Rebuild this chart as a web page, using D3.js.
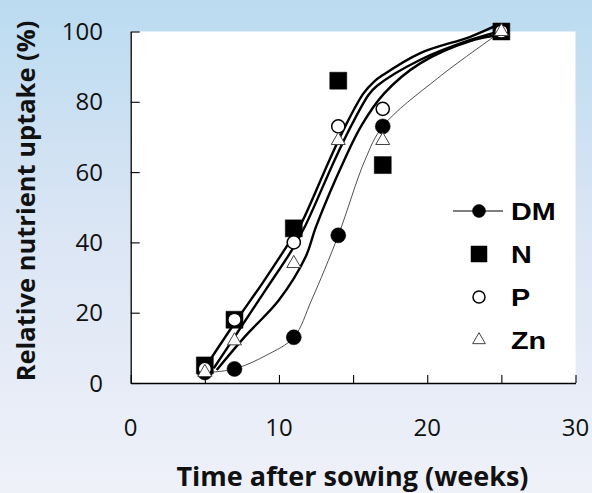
<!DOCTYPE html>
<html>
<head>
<meta charset="utf-8">
<script src="https://cdn.jsdelivr.net/npm/d3@7"></script>
<style>
  html, body { margin: 0; padding: 0; }
  body { width: 592px; height: 493px; overflow: hidden; }
  svg { display: block; }
</style>
</head>
<body>
<svg id="chart" width="592" height="493"></svg>
<script>
'use strict';

// sampling times (weeks after sowing)
var weeks = [5, 7, 11, 14, 17, 25];

// relative uptake (%)
var dmValues = [3, 4, 13, 42, 73, 100];
var nValues  = [5, 18, 44, 86, 62, 100];
var pValues  = [4, 18, 40, 73, 78, 100];
var znValues = [3, 12, 34, 69, 69, 100];

// fitted curves, [week, %]
var fitTop = [[5.2, 5.6], [7, 17], [8.9, 28.5], [10.7, 40], [11.4, 44.5], [13.4, 63.4],
  [14.5, 73.3], [15.7, 82.4], [16.4, 85.7], [17, 87.6], [19.5, 93.8], [22.9, 98.5], [24.7, 101.8]];
var fitMid = [[5.6, 4.2], [7.3, 15], [9.1, 26.5], [10.9, 38], [11.75, 44.5], [13.75, 63.4],
  [14.85, 73], [16.05, 82], [16.6, 84.5], [19.5, 91.9], [22.9, 97.6], [25.2, 100.4]];
var fitLow = [[5.8, 3.7], [7.7, 13.2], [10, 23.6], [11.8, 35.9], [12.5, 44.5], [14.4, 63.4],
  [15.6, 73.5], [17.1, 82.4], [19.55, 91], [22.9, 97.3], [25.2, 99.2]];
var fitDM = [[5.2, 3], [7, 4], [9.2, 8], [11, 13], [12.2, 23.6], [14, 42], [15.8, 63.4],
  [17, 73], [20.7, 86.7], [25, 100]];

var xTicks = [0, 5, 10, 15, 20, 25, 30];
var xLabels = [0, 10, 20, 30];
var yTicks = [0, 20, 40, 60, 80, 100];
var legendNames = ['DM', 'N', 'P', 'Zn'];

var svg = d3.select('#chart');
var W = 592, H = 493;

var x = d3.scaleLinear().domain([0, 30]).range([130.7, 575.5]);
var y = d3.scaleLinear().domain([0, 100]).range([383, 31.5]);

// background gradient
var defs = svg.append('defs');
var grad = defs.append('linearGradient').attr('id', 'bg')
  .attr('x1', 0).attr('y1', 0).attr('x2', 0).attr('y2', 1);
grad.append('stop').attr('offset', '0%').attr('stop-color', '#bbdbf0');
grad.append('stop').attr('offset', '45%').attr('stop-color', '#dae5f4');
grad.append('stop').attr('offset', '100%').attr('stop-color', '#eff1f9');
svg.append('rect').attr('width', W).attr('height', H).attr('fill', 'url(#bg)');

// white plotting area
svg.append('rect')
  .attr('x', x(0)).attr('y', y(100))
  .attr('width', x(30) - x(0)).attr('height', y(0) - y(100))
  .attr('fill', '#fff');

// axes
var xAxis = svg.append('g').attr('transform', 'translate(0,' + y(0) + ')')
  .call(d3.axisBottom(x).tickValues(xTicks).tickSizeInner(-8).tickSizeOuter(0).tickFormat(''));
var yAxis = svg.append('g').attr('transform', 'translate(' + x(0) + ',0)')
  .call(d3.axisLeft(y).tickValues(yTicks).tickSizeInner(-9).tickSizeOuter(0).tickFormat(''));
[xAxis, yAxis].forEach(function (g) {
  g.select('.domain').attr('stroke', '#000').attr('stroke-width', 1.3);
  g.selectAll('.tick line').attr('stroke', '#000').attr('stroke-width', 1.1);
});

var labelFont = '"Open Sans", "Noto Sans", sans-serif';

svg.append('g').selectAll('text').data(xLabels).enter().append('text')
  .attr('x', function (d) { return x(d); })
  .attr('y', 436)
  .attr('text-anchor', 'middle')
  .attr('font-family', labelFont).attr('font-size', 24).attr('fill', '#111')
  .text(function (d) { return d; });

svg.append('g').selectAll('text').data(yTicks).enter().append('text')
  .attr('x', 103)
  .attr('y', function (d) { return y(d); })
  .attr('dy', '0.36em')
  .attr('text-anchor', 'end')
  .attr('font-family', labelFont).attr('font-size', 24).attr('fill', '#111')
  .text(function (d) { return d; });

svg.append('text')
  .attr('x', 352.5).attr('y', 486)
  .attr('text-anchor', 'middle')
  .attr('font-family', labelFont).attr('font-weight', 'bold').attr('font-size', 27)
  .attr('fill', '#111')
  .text('Time after sowing (weeks)');

svg.append('text')
  .attr('transform', 'translate(35,201) rotate(-90)')
  .attr('text-anchor', 'middle')
  .attr('font-family', labelFont).attr('font-weight', 'bold').attr('font-size', 25.5)
  .attr('fill', '#111')
  .text('Relative nutrient uptake (%)');

// curves
var line = d3.line()
  .x(function (d) { return x(d[0]); })
  .y(function (d) { return y(d[1]); })
  .curve(d3.curveCatmullRom.alpha(0.5));

svg.append('path').datum(fitDM).attr('d', line)
  .attr('fill', 'none').attr('stroke', '#222').attr('stroke-width', 0.8);
[fitTop, fitMid, fitLow].forEach(function (f) {
  svg.append('path').datum(f).attr('d', line)
    .attr('fill', 'none').attr('stroke', '#000').attr('stroke-width', 2.4);
});

// markers
var sym = {
  DM: d3.symbol().type(d3.symbolCircle).size(Math.PI * 7.5 * 7.5),
  N: d3.symbol().type(d3.symbolSquare).size(17 * 17),
  P: d3.symbol().type(d3.symbolCircle).size(Math.PI * 6.6 * 6.6),
  Zn: d3.symbol().type(d3.symbolTriangle).size(85)
};
var style = {
  DM: { fill: '#000', stroke: '#000', sw: 0.5 },
  N: { fill: '#000', stroke: '#000', sw: 0.5 },
  P: { fill: '#fff', stroke: '#000', sw: 1.5 },
  Zn: { fill: '#fff', stroke: '#444', sw: 1 }
};
var seriesData = { DM: dmValues, N: nValues, P: pValues, Zn: znValues };

legendNames.forEach(function (name) {
  svg.append('g').selectAll('path').data(weeks).enter().append('path')
    .attr('transform', function (d, i) {
      return 'translate(' + x(d) + ',' + y(seriesData[name][i]) + ')';
    })
    .attr('d', sym[name]())
    .attr('fill', style[name].fill)
    .attr('stroke', style[name].stroke)
    .attr('stroke-width', style[name].sw);
});

// legend
var legendY = d3.scalePoint().domain(legendNames).range([211, 340]);
var legendSym = {
  DM: d3.symbol().type(d3.symbolCircle).size(Math.PI * 6.5 * 6.5),
  N: d3.symbol().type(d3.symbolSquare).size(16 * 16),
  P: d3.symbol().type(d3.symbolCircle).size(Math.PI * 6 * 6),
  Zn: d3.symbol().type(d3.symbolTriangle).size(70)
};
var lg = svg.append('g');
lg.append('line')
  .attr('x1', 453).attr('x2', 503)
  .attr('y1', legendY('DM')).attr('y2', legendY('DM'))
  .attr('stroke', '#000').attr('stroke-width', 1.2);
legendNames.forEach(function (name) {
  lg.append('path')
    .attr('transform', 'translate(479,' + legendY(name) + ')')
    .attr('d', legendSym[name]())
    .attr('fill', style[name].fill)
    .attr('stroke', style[name].stroke)
    .attr('stroke-width', style[name].sw);
  lg.append('text')
    .attr('transform', 'translate(511,' + (legendY(name) + 8.5) + ') scale(1.25,1)')
    .attr('font-family', '"Liberation Sans", Arial, sans-serif')
    .attr('font-weight', 'bold').attr('font-size', 23).attr('fill', '#000')
    .text(name);
});
</script>
</body>
</html>
